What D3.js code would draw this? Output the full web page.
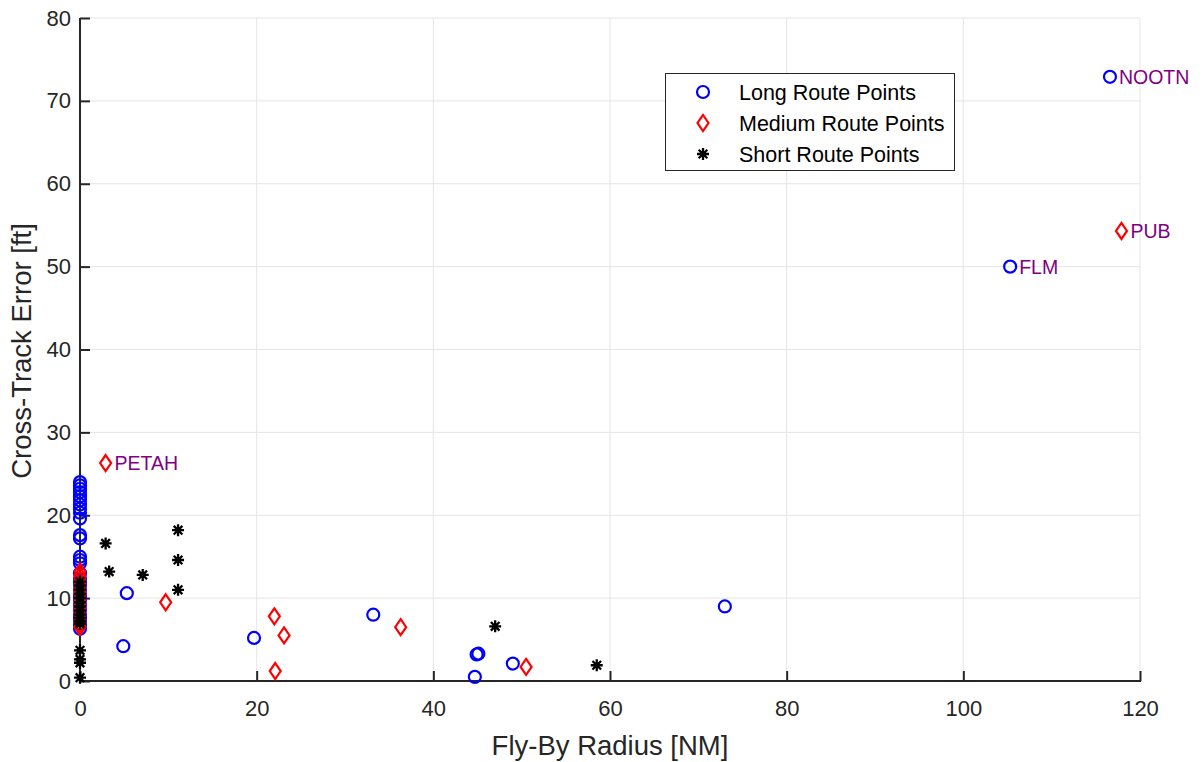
<!DOCTYPE html>
<html><head><meta charset="utf-8">
<script src="https://cdn.jsdelivr.net/npm/d3@7"></script>
<style>body{margin:0;background:#fff;}svg{display:block;font-family:"Liberation Sans",Arial,sans-serif;}</style>
</head><body><svg id="c" width="1202" height="762"></svg>
<script>
// Long route points
const longX = [116.6,105.3,73.0,49.0,44.9,45.1,44.7,33.2,19.7,5.3,4.9,
  0,0,0,0,0,0,0,0,0,0,0,0,0,0,0,0,0,0,0,0,0,0,0,0,0,0,0,0,0,0];
const longY = [72.9,50.0,9.0,2.1,3.2,3.3,0.5,8.0,5.2,10.6,4.2,
  24.0,23.6,23.2,22.8,22.3,21.8,21.3,20.8,20.3,19.6,17.6,17.2,15.0,14.6,14.2,
  13.0,12.3,11.6,11.0,10.4,9.8,9.2,8.6,8.0,7.4,6.8,6.3,7.7,10.1,12.0];
// Medium route points
const medX = [117.9,2.9,9.7,22.0,23.1,22.1,36.3,50.5,
  0,0,0,0,0,0,0,0,0,0,0,0,0,0];
const medY = [54.3,26.3,9.5,7.8,5.5,1.2,6.5,1.7,
  13.2,12.7,12.2,11.6,11.0,10.4,9.8,9.2,8.6,8.0,7.4,6.9,6.5,10.7];
// Short route points
const shortX = [2.9,3.3,7.1,11.1,11.1,11.1,47.0,58.5,
  0,0,0,0,0,0,0,0,0,0,0,0,0,0,0,0,0,0];
const shortY = [16.6,13.2,12.8,18.2,14.6,11.0,6.6,1.9,
  12.0,11.5,11.0,10.5,10.0,9.5,9.0,8.5,8.0,7.6,7.2,6.9,3.7,2.6,2.2,0.4];
// Point labels
const labelNames = ["NOOTN","FLM","PUB","PETAH"];
const labelX = [116.6,105.3,117.9,2.9];
const labelY = [72.9,50.0,54.3,26.3];
// Ticks
const xTicks = [0,20,40,60,80,100,120];
const yTicks = [0,10,20,30,40,50,60,70,80];
const legendNames = ["Long Route Points","Medium Route Points","Short Route Points"];

const svg = d3.select("#c");
const L=80,R=1140,T=18,B=681;
const x = d3.scaleLinear().domain([0,120]).range([L,R]);
const y = d3.scaleLinear().domain([0,80]).range([B,T]);
const axisCol="#262626";

// grid
const g = svg.append("g");
g.selectAll(".gx").data(xTicks).join("line").attr("x1",d=>x(d)).attr("x2",d=>x(d))
  .attr("y1",T).attr("y2",B).attr("stroke","#e5e5e5").attr("stroke-width",1);
g.selectAll(".gy").data(yTicks).join("line").attr("y1",d=>y(d)).attr("y2",d=>y(d))
  .attr("x1",L).attr("x2",R).attr("stroke","#e5e5e5").attr("stroke-width",1);

// axes
const xa = svg.append("g").attr("transform",`translate(0,${B})`)
  .call(d3.axisBottom(x).tickValues(xTicks).tickSizeInner(-10).tickSizeOuter(0).tickPadding(19));
const ya = svg.append("g").attr("transform",`translate(${L},0)`)
  .call(d3.axisLeft(y).tickValues(yTicks).tickSizeInner(-10).tickSizeOuter(0).tickPadding(9));
[xa,ya].forEach(a=>{
  a.select(".domain").attr("stroke",axisCol).attr("stroke-width",2);
  a.selectAll(".tick line").attr("stroke",axisCol).attr("stroke-width",2);
  a.selectAll("text").attr("fill",axisCol).attr("font-size",22).attr("font-family","Liberation Sans,Arial,sans-serif");
});
xa.select(".domain").attr("d",`M${L},0H${R+1}`);
ya.select(".domain").attr("d",`M0,${B+1}V${T}`);

svg.append("text").attr("x",610).attr("y",755).attr("text-anchor","middle")
  .attr("font-size",27.5).attr("fill",axisCol).text("Fly-By Radius [NM]");
svg.append("text").attr("transform",`translate(31,${351}) rotate(-90)`).attr("text-anchor","middle")
  .attr("font-size",27.5).attr("fill",axisCol).text("Cross-Track Error [ft]");

// markers
function circ(sel,cx,cy){sel.append("circle").attr("cx",cx).attr("cy",cy).attr("r",6)
  .attr("fill","none").attr("stroke","#0000ff").attr("stroke-width",2.2);}
function diam(sel,cx,cy){sel.append("path").attr("d",`M${cx},${cy-8}L${cx+5.5},${cy}L${cx},${cy+8}L${cx-5.5},${cy}Z`)
  .attr("fill","none").attr("stroke","#ff0000").attr("stroke-width",2.2);}
function star(sel,cx,cy){const s=6,d=4.3;sel.append("path")
  .attr("d",`M${cx-s},${cy}H${cx+s}M${cx},${cy-s}V${cy+s}M${cx-d},${cy-d}L${cx+d},${cy+d}M${cx-d},${cy+d}L${cx+d},${cy-d}`)
  .attr("stroke","#000").attr("stroke-width",2.3).attr("fill","none");}

const m = svg.append("g");
longX.forEach((v,i)=>circ(m,x(v),y(longY[i])));
medX.forEach((v,i)=>diam(m,x(v),y(medY[i])));
shortX.forEach((v,i)=>star(m,x(v),y(shortY[i])));

// labels
labelNames.forEach((n,i)=>{
  svg.append("text").attr("x",x(labelX[i])+9).attr("y",y(labelY[i])).attr("dy","0.36em")
    .attr("font-size",19.5).attr("fill","#800080").text(n);
});

// legend
const lg = svg.append("g");
lg.append("rect").attr("x",665.5).attr("y",73.5).attr("width",289).attr("height",97)
  .attr("fill","#fff").attr("stroke","#262626").attr("stroke-width",1);
const rowsY=[92,123,154];
circ(lg,703,rowsY[0]); diam(lg,703,rowsY[1]); star(lg,703,rowsY[2]);
legendNames.forEach((n,i)=>lg.append("text").attr("x",739).attr("y",rowsY[i]).attr("dy","0.36em")
  .attr("font-size",21.5).attr("fill","#000").text(n));
</script></body></html>
